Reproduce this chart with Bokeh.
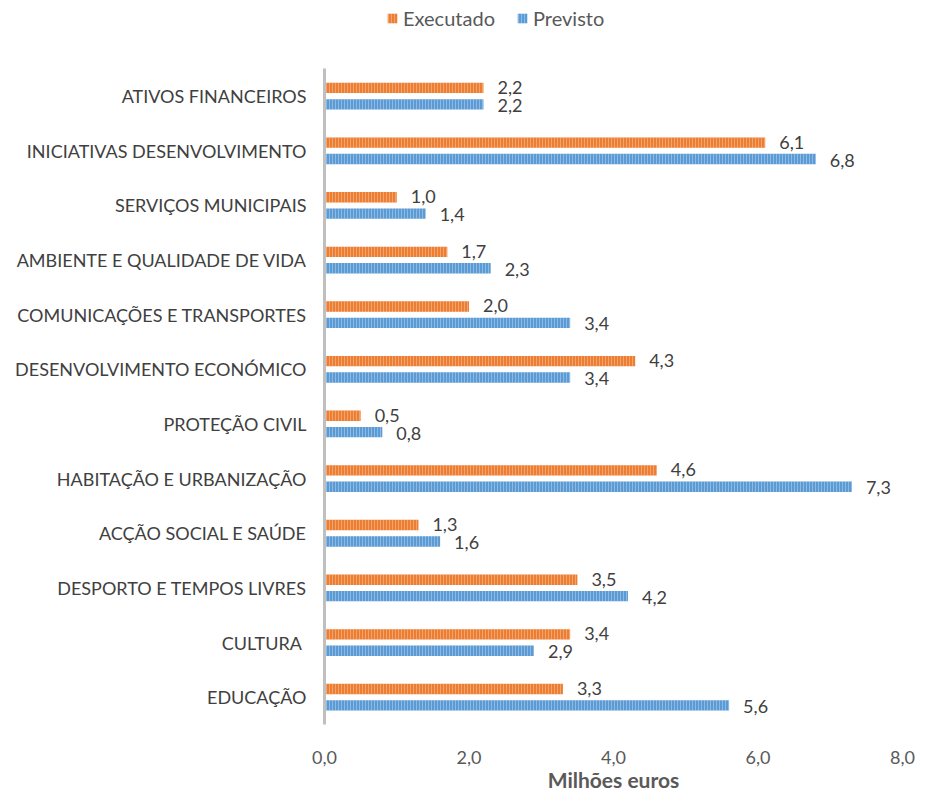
from bokeh.plotting import figure
from bokeh.models import (ColumnDataSource, Range1d, Legend, LegendItem,
                          CustomJSTickFormatter, FixedTicker)
from bokeh.transform import dodge
from bokeh.embed import file_html
from bokeh.resources import INLINE
from bokeh.core.properties import value

categories = ["ATIVOS FINANCEIROS", "INICIATIVAS DESENVOLVIMENTO", "SERVIÇOS MUNICIPAIS",
              "AMBIENTE E QUALIDADE DE VIDA", "COMUNICAÇÕES E TRANSPORTES",
              "DESENVOLVIMENTO ECONÓMICO", "PROTEÇÃO CIVIL", "HABITAÇÃO E URBANIZAÇÃO",
              "ACÇÃO SOCIAL E SAÚDE", "DESPORTO E TEMPOS LIVRES", "CULTURA ", "EDUCAÇÃO"]
executado = [2.2, 6.1, 1.0, 1.7, 2.0, 4.3, 0.5, 4.6, 1.3, 3.5, 3.4, 3.3]
previsto = [2.2, 6.8, 1.4, 2.3, 3.4, 3.4, 0.8, 7.3, 1.6, 4.2, 2.9, 5.6]
x_ticks = [0, 2, 4, 6, 8]

FONT = "Lato"
TXT = "#595959"
FS = "18px"

n = len(categories)
ypos = [n - 1 - i for i in range(n)]  # first category at the top

src = ColumnDataSource(dict(
    ypos=ypos,
    cat=categories,
    exe=executado,
    prev=previsto,
    exe_lbl=[f"{v:.1f}".replace(".", ",") for v in executado],
    prev_lbl=[f"{v:.1f}".replace(".", ",") for v in previsto],
))

TOP_GAP = 1.25  # free space above the first category (room for the legend)
FRAME_H = 724

p = figure(frame_width=578, frame_height=FRAME_H,
           y_range=Range1d(-0.5, n - 0.5 + TOP_GAP),
           x_range=Range1d(0, 8),
           output_backend="svg", toolbar_location=None,
           min_border_left=324, min_border_right=13, min_border_top=0, min_border_bottom=0)

r_exe = p.hbar(y=dodge("ypos", 0.15), left=0, right="exe", height=0.19,
               source=src, fill_color="#ED7D31", line_color=None,
               hatch_pattern="|", hatch_color="white", hatch_alpha=0.3,
               hatch_scale=3, hatch_weight=1)
r_prev = p.hbar(y=dodge("ypos", -0.15), left=0, right="prev", height=0.19,
                source=src, fill_color="#5B9BD5", line_color=None,
                hatch_pattern="|", hatch_color="white", hatch_alpha=0.3,
                hatch_scale=3, hatch_weight=1)

p.text(x="exe", y=dodge("ypos", 0.16), text="exe_lbl", source=src,
       x_offset=14, text_baseline="middle", text_align="left",
       text_font=value(FONT), text_font_size=FS, text_color="#404040")
p.text(x="prev", y=dodge("ypos", -0.17), text="prev_lbl", source=src,
       x_offset=14, text_baseline="middle", text_align="left",
       text_font=value(FONT), text_font_size=FS, text_color="#404040")

p.xgrid.visible = False
p.ygrid.visible = False
p.outline_line_color = None

xa = p.xaxis[0]
xa.ticker = FixedTicker(ticks=x_ticks)
xa.formatter = CustomJSTickFormatter(code="return tick.toFixed(1).replace('.', ',');")
xa.axis_line_color = None
xa.major_tick_line_color = None
xa.minor_tick_line_color = None
xa.major_label_standoff = 20
xa.major_label_text_font = FONT
xa.major_label_text_font_size = FS
xa.major_label_text_color = TXT
xa.axis_label = "Milhões euros"
xa.axis_label_text_font = FONT
xa.axis_label_text_font_size = "21px"
xa.axis_label_text_font_style = "bold"
xa.axis_label_text_color = TXT
xa.axis_label_standoff = 0

ya = p.yaxis[0]
ya.ticker = FixedTicker(ticks=ypos)
ya.major_label_overrides = {y: c for y, c in zip(ypos, categories)}
ya.bounds = (-0.5, n - 0.5)
ya.axis_line_color = "#BFBFBF"
ya.axis_line_width = 3
ya.major_tick_line_color = None
ya.minor_tick_line_color = None
ya.major_label_standoff = 12
ya.major_label_text_font = FONT
ya.major_label_text_font_size = FS
ya.major_label_text_color = "#404040"

legend = Legend(items=[LegendItem(label="Executado", renderers=[r_exe]),
                       LegendItem(label="Previsto", renderers=[r_prev])],
                orientation="horizontal", location=(62, FRAME_H - 30),
                glyph_width=12, glyph_height=12, label_standoff=5, spacing=21,
                label_height=20,
                label_text_font=FONT, label_text_font_size="20px", label_text_color=TXT,
                border_line_color=None, background_fill_alpha=0,
                margin=0, padding=0)
p.add_layout(legend)

open("out.html", "w").write(file_html(p, INLINE))
